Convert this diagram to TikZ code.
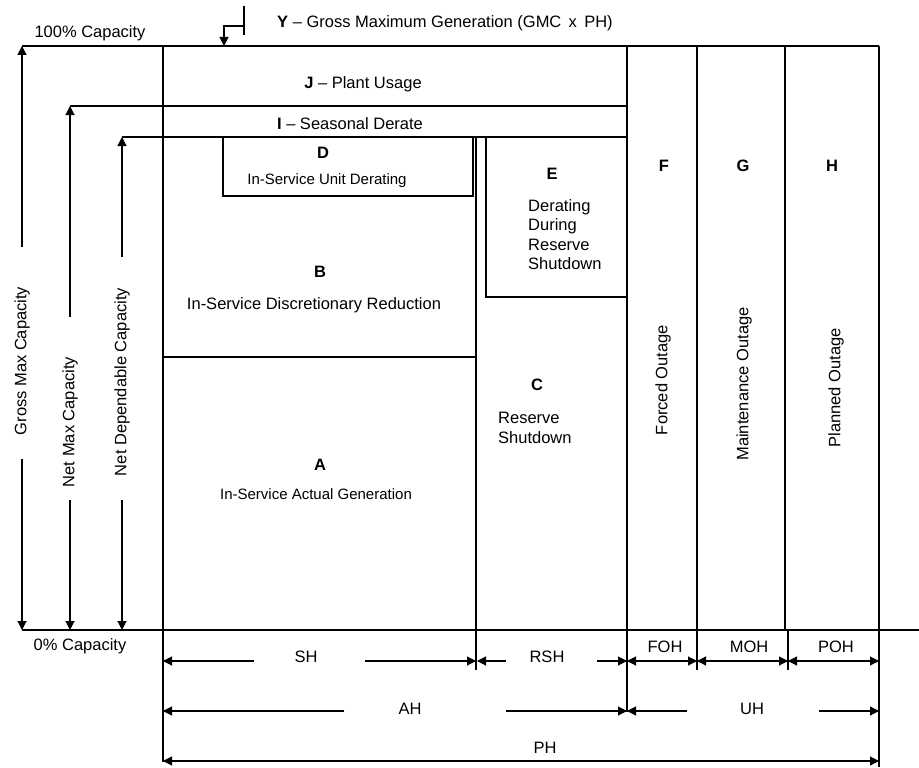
\documentclass[tikz,border=0pt]{standalone}
\usepackage{fontspec}
\setmainfont{Liberation Sans}
\usetikzlibrary{arrows.meta}
\begin{document}
\begin{tikzpicture}[x=1pt,y=-1pt,
  font=\fontsize{16.5}{19.5}\selectfont,
  thinln/.style={line width=1.1pt},
  thickln/.style={line width=2.1pt},
  tip/.style={thinln,-{Triangle[length=9pt,width=9pt]}},
  dtip/.style={thinln,{Triangle[length=9pt,width=9pt]}-{Triangle[length=9pt,width=9pt]}},
  txt/.style={inner sep=0pt, anchor=center},
  multi/.style={inner sep=0pt, align=left, anchor=north west},
  vtxt/.style={inner sep=0pt, anchor=center, rotate=90}
]
\useasboundingbox (0,0) rectangle (919,768);

% ---- frame lines ----
\draw[thinln] (22,46) -- (163,46);
\draw[thinln] (163,46) -- (879,46);
\draw[thinln] (70,106) -- (627,106);
\draw[thinln] (122,137) -- (163,137);
\draw[thickln] (163,137) -- (627,137);
\draw[thinln] (22,630) -- (919,630);
\draw[thickln] (163,46) -- (163,630);
\draw[thinln] (163,630) -- (163,762);
\draw[thickln] (476,137) -- (476,630);
\draw[thinln] (476,630) -- (476,670);
\draw[thinln] (627,46) -- (627,712);
\draw[thinln] (697,46) -- (697,670);
\draw[thinln] (785,46) -- (785,630);
\draw[thinln] (788,630) -- (788,670);
\draw[thinln] (879,46) -- (879,767);
\draw[thinln] (163,357) -- (476,357);
\draw[thinln] (223,137) rectangle (473,196);
\draw[thinln] (486,137) rectangle (627,297);

% ---- Y indicator ----
\coordinate (ytop) at (244,6);
\coordinate (ybot) at (244,35);
\coordinate (ycorner) at (224,26);
\coordinate (yend) at (224,46);
\draw[thinln] (ytop) -- (ybot);
\draw[tip] (244,26) -- (ycorner) -- (yend);
\node[txt, anchor=west] (ylbl) at (277,23) {\textbf{Y} -- Gross Maximum Generation (GMC\, x\, PH)};

% ---- capacity labels ----
\node[txt] (cap100) at (90,33) {100\% Capacity};
\node[txt] (cap0) at (80,646) {0\% Capacity};

% ---- left vertical arrows ----
\draw[tip] (22,247) -- (22,46);
\draw[tip] (22,459) -- (22,630);
\node[vtxt] (gmc) at (22,361) {Gross Max Capacity};
\draw[tip] (70,317) -- (70,106);
\draw[tip] (70,500) -- (70,630);
\node[vtxt] (nmc) at (70,422) {Net Max Capacity};
\draw[tip] (122,257) -- (122,137);
\draw[tip] (122,500) -- (122,630);
\node[vtxt] (ndc) at (122,382) {Net Dependable Capacity};

% ---- block labels ----
\node[txt] (jl) at (363,84) {\textbf{J} -- Plant Usage};
\node[txt] (il) at (350,124) {\textbf{I} -- Seasonal Derate};
\node[txt] (dl) at (323,153) {\textbf{D}};
\node[txt, font=\fontsize{15}{18}\selectfont] (dt) at (327,181) {In-Service Unit Derating};
\node[txt] (el) at (552,174) {\textbf{E}};
\node[multi] (et) at (528,199) {Derating\\During\\Reserve\\Shutdown};
\node[txt] (bl) at (320,272) {\textbf{B}};
\node[txt] (bt) at (314,305) {In-Service Discretionary Reduction};
\node[txt] (cl) at (537,385) {\textbf{C}};
\node[multi] (ct) at (498,412) {Reserve\\Shutdown};
\node[txt] (al) at (320,465) {\textbf{A}};
\node[txt, font=\fontsize{15}{18}\selectfont] (at) at (316,494) {In-Service Actual Generation};
\node[txt] (fl) at (664,166) {\textbf{F}};
\node[txt] (gl) at (743,166) {\textbf{G}};
\node[txt] (hl) at (832,166) {\textbf{H}};
\node[vtxt] (ft) at (663,380) {Forced Outage};
\node[vtxt] (gt) at (744,384) {Maintenance Outage};
\node[vtxt] (ht) at (836,388) {Planned Outage};

% ---- bottom dimension arrows ----
\draw[tip] (254,661) -- (163,661);
\draw[tip] (365,661) -- (476,661);
\node[txt] (sh) at (306,657) {SH};
\draw[tip] (506,661) -- (477,661);
\draw[tip] (597,661) -- (627,661);
\node[txt] (rsh) at (547,657) {RSH};
\draw[dtip] (627,661) -- (697,661);
\node[txt] (foh) at (665,647) {FOH};
\draw[dtip] (697,661) -- (788,661);
\node[txt] (moh) at (749,647) {MOH};
\draw[dtip] (788,661) -- (879,661);
\node[txt] (poh) at (836,647) {POH};

\draw[tip] (344,711) -- (163,711);
\draw[tip] (506,711) -- (627,711);
\node[txt] (ah) at (410,709) {AH};
\draw[tip] (687,711) -- (627,711);
\draw[tip] (819,711) -- (879,711);
\node[txt] (uh) at (752,709) {UH};
\draw[dtip] (163,761) -- (879,761);
\node[txt] (ph) at (545,748) {PH};
\end{tikzpicture}
\end{document}
